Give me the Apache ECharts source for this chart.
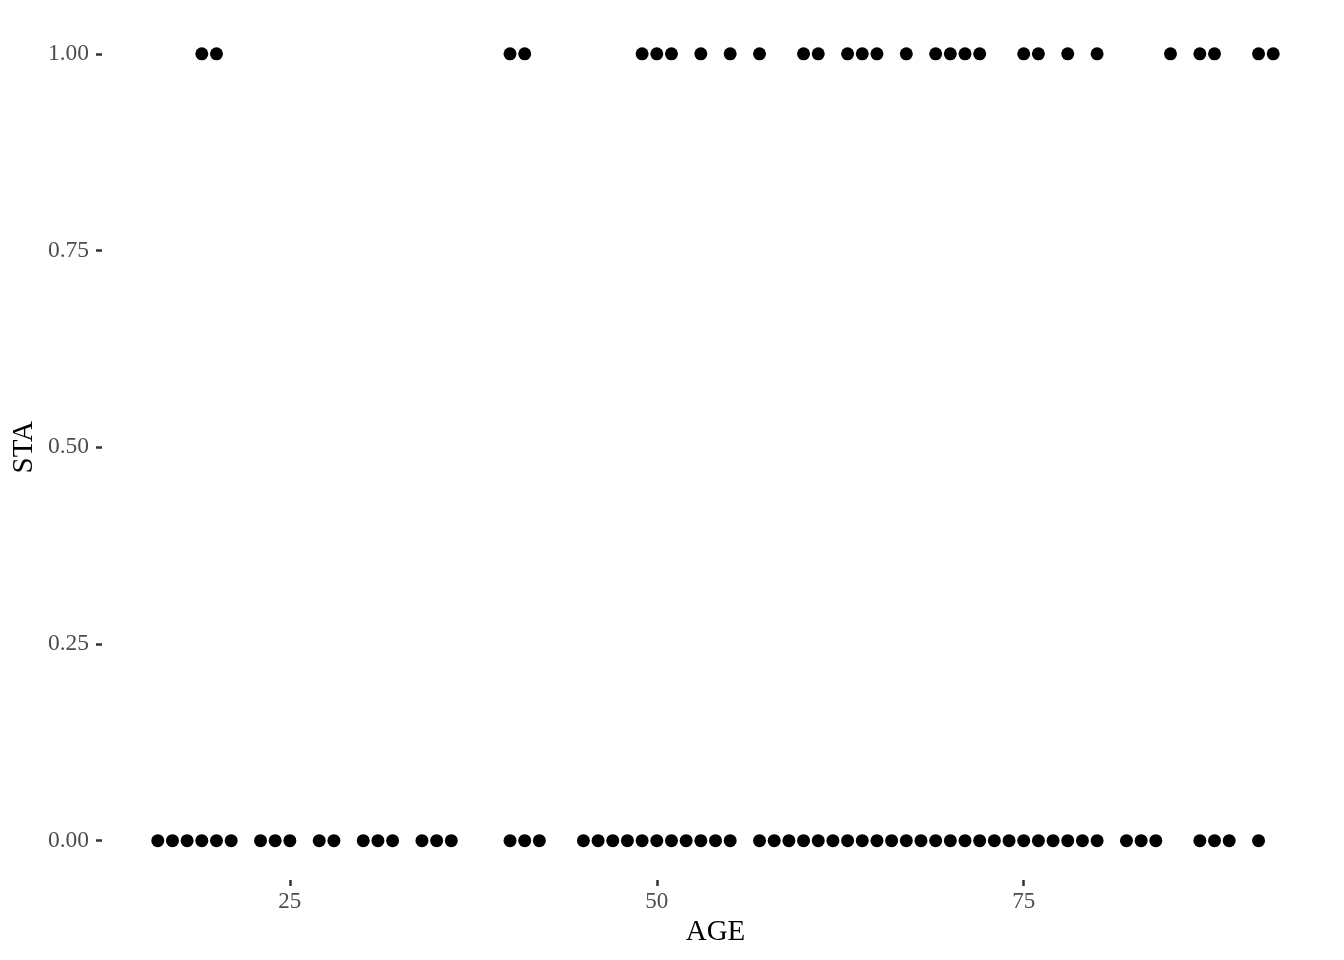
<!DOCTYPE html>
<html><head><meta charset="utf-8">
<script src="https://cdn.jsdelivr.net/npm/echarts@6/dist/echarts.min.js"></script>
<style>html,body{margin:0;padding:0;background:#fff}#c{width:1344px;height:960px}</style>
</head><body><div id="c"></div>
<script>
// AGE values where STA = 1
var ageSta1 = [19,20,40,41,49,50,51,53,55,57,60,61,63,64,65,67,69,70,71,72,75,76,78,80,85,87,88,91,92];
// AGE values where STA = 0
var ageSta0 = [16,17,18,19,20,21,23,24,25,27,28,30,31,32,34,35,36,40,41,42,45,46,47,48,49,50,51,52,53,54,55,57,58,59,60,61,62,63,64,65,66,67,68,69,70,71,72,73,74,75,76,77,78,79,80,82,83,84,87,88,89,91];
var xTicks = [25,50,75];
var yTicks = [0,0.25,0.5,0.75,1];

var pts = [];
ageSta0.forEach(function(a){pts.push([a,0]);});
ageSta1.forEach(function(a){pts.push([a,1]);});

var font = '"Liberation Serif", "Times New Roman", serif';
var chart = echarts.init(document.getElementById('c'));
chart.setOption({
  animation:false,
  backgroundColor:'#fff',
  grid:{left:102,right:15,top:14.5,bottom:80,containLabel:false},
  xAxis:{type:'value',min:12.2,max:95.8,
    name:'AGE',nameLocation:'middle',nameGap:36,
    nameTextStyle:{fontFamily:font,fontSize:29,color:'#000'},
    axisLine:{show:false,onZero:false},splitLine:{show:false},
    axisTick:{show:true,inside:false,customValues:xTicks,length:6,lineStyle:{color:'#333',width:2.5}},
    axisLabel:{customValues:xTicks,margin:10,fontFamily:font,fontSize:23,color:'#4d4d4d'}
  },
  yAxis:{type:'value',min:-0.05,max:1.05,
    name:'STA',nameLocation:'middle',nameGap:63,nameRotate:90,nameMoveOverlap:false,
    nameTextStyle:{fontFamily:font,fontSize:29,color:'#000'},
    axisLine:{show:false,onZero:false},splitLine:{show:false},
    axisTick:{show:true,inside:false,customValues:yTicks,length:6,lineStyle:{color:'#333',width:2.5}},
    axisLabel:{customValues:yTicks,margin:13,fontFamily:font,fontSize:23.5,color:'#4d4d4d',
      formatter:function(v){return v.toFixed(2);}}
  },
  series:[{type:'scatter',data:pts,symbolSize:13,itemStyle:{color:'#000',opacity:1}}]
});
</script></body></html>
